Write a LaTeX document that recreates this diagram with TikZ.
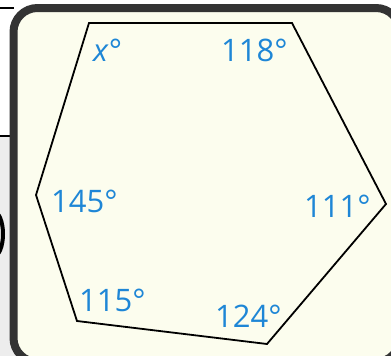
\documentclass[tikz,border=0pt]{standalone}
\usepackage{fontspec}
\setmainfont{Open Sans}
\definecolor{framegray}{HTML}{333333}
\definecolor{ivory}{HTML}{FCFDEE}
\definecolor{lblblue}{HTML}{1E86D6}
\definecolor{outgray}{HTML}{EDEDED}
\begin{document}
\begin{tikzpicture}[x=1pt,y=-1pt,
  angle/.style={text=lblblue,font=\fontsize{31}{31}\selectfont,inner sep=0pt,anchor=base west},
  edge/.style={line width=1.8pt,line join=miter,black}]
\useasboundingbox (0,0) rectangle (391,356);
\fill[white] (0,0) rectangle (391,356);
\fill[outgray] (0,136) rectangle (20,356);
\draw[line width=2pt] (0,8) -- (14,8);
\draw[line width=2pt] (0,136) -- (14,136);
\draw[line width=4pt] (-6,234) ellipse [x radius=9, y radius=22];
\draw[line width=8pt,framegray,fill=ivory,rounded corners=24pt] (13.5,8) rectangle (400,362);
\coordinate (A) at (89,23);
\coordinate (B) at (292,23);
\coordinate (C) at (386,204);
\coordinate (D) at (267,344);
\coordinate (E) at (77,321);
\coordinate (F) at (36,195);
\draw[edge] (A) -- (B) -- (C) -- (D) -- (E) -- (F) -- cycle;
\node[angle] (lx) at (93,61) {\textit{x}°};
\node[angle] (l118) at (221,61) {118°};
\node[angle] (l145) at (51,212) {145°};
\node[angle] (l115) at (79,311) {115°};
\node[angle] (l111) at (304,217) {111°};
\node[angle] (l124) at (215,327) {124°};
\end{tikzpicture}
\end{document}
